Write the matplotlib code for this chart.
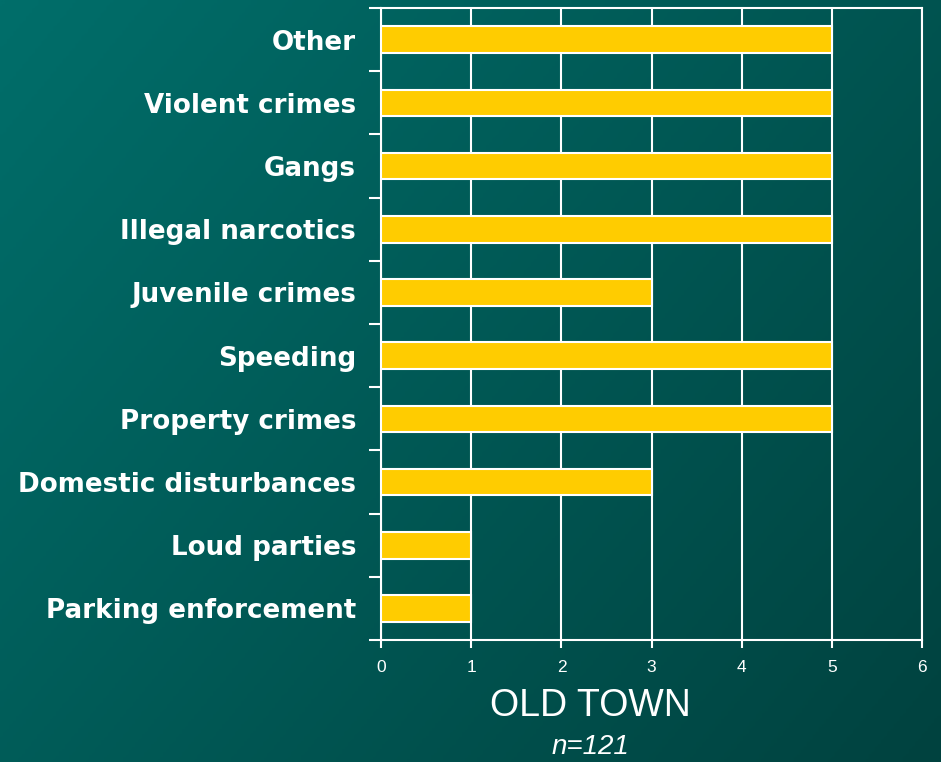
import numpy as np
import matplotlib
matplotlib.use('Agg')
import matplotlib.pyplot as plt
from matplotlib.colors import LinearSegmentedColormap

categories = ['Parking enforcement', 'Loud parties', 'Domestic disturbances',
              'Property crimes', 'Speeding', 'Juvenile crimes',
              'Illegal narcotics', 'Gangs', 'Violent crimes', 'Other']
counts = [1, 1, 3, 5, 5, 3, 5, 5, 5, 5]
x_ticks = [0, 1, 2, 3, 4, 5, 6]
title = 'OLD TOWN'
subtitle = 'n=121'

fig = plt.figure(figsize=(9.41, 7.62), dpi=100)

# teal gradient background
bg = fig.add_axes([0, 0, 1, 1], zorder=-10)
gx, gy = np.meshgrid(np.linspace(0, 1, 300), np.linspace(0, 1, 300))
grad = 0.6 * gx + 0.4 * gy
cmap = LinearSegmentedColormap.from_list('teal', ['#006e6a', '#00423f'])
bg.imshow(grad, cmap=cmap, aspect='auto', extent=[0, 1, 0, 1], origin='upper')
bg.axis('off')

ax = fig.add_axes([0.405, 0.160, 0.575, 0.8295])
ax.set_facecolor('none')
ypos = np.arange(len(categories))
ax.barh(ypos, counts, height=0.42, color='#ffcc00', edgecolor='white',
        linewidth=1.5, zorder=3)

ax.set_xlim(0, 6)
ax.set_ylim(-0.5, len(categories) - 0.5)
ax.set_xticks(x_ticks)
ax.set_xticklabels([str(t) for t in x_ticks], family='Liberation Sans', fontsize=12.5)
ax.tick_params(axis='x', colors='white', direction='out', length=6, width=1.5, pad=8)

# ticks at category boundaries, labels at centres
ax.set_yticks(np.arange(-0.5, len(categories), 1.0))
ax.set_yticklabels([])
ax.tick_params(axis='y', which='major', colors='white', length=9, width=1.5)
ax.set_yticks(ypos, minor=True)
ax.set_yticklabels(categories, minor=True, fontsize=18.8, fontweight='bold',
                   color='white', family='DejaVu Sans')
ax.tick_params(axis='y', which='minor', length=0, pad=18)

ax.xaxis.grid(True, color='white', linewidth=1.5, zorder=1)
ax.set_axisbelow(True)
for s in ax.spines.values():
    s.set_color('white')
    s.set_linewidth(1.5)

fig.text(0.627, 0.073, title, ha='center', va='center', color='white',
         fontsize=27, family='Liberation Sans')
fig.text(0.627, 0.020, subtitle, ha='center', va='center', color='white',
         fontsize=20, style='italic', family='Liberation Sans')

plt.savefig('out.png', dpi=100)
